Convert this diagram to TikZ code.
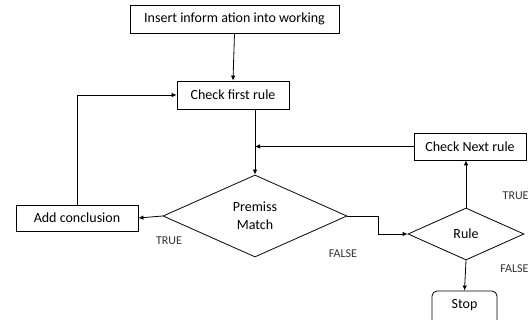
\documentclass[tikz,border=0pt]{standalone}
\usepackage{fontspec}
\setmainfont{Carlito}
\usetikzlibrary{shapes.geometric,arrows.meta}
\begin{document}
\begin{tikzpicture}[x=1pt,y=-1pt,
  line width=0.8pt,
  box/.style={draw, rectangle, inner sep=0pt, font=\fontsize{14}{16}\selectfont},
  dia/.style={draw, diamond, inner sep=0pt, align=center, font=\fontsize{14}{18}\selectfont},
  arr/.style={-{Latex[length=5pt,width=4.5pt]}},
  lbl/.style={font=\fontsize{12}{14}\selectfont, text=black!80}]
\useasboundingbox (0,0) rectangle (530,320);
\clip (0,0) rectangle (530,320);
\fill[white] (0,0) rectangle (530,320);

% process boxes
\node[box, minimum width=209pt, minimum height=28pt] (insert) at (234.5,19) {Insert inform ation into working};
\node[box, minimum width=112pt, minimum height=28pt] (first) at (233,95) {Check first rule};
\node[box, minimum width=112pt, minimum height=27pt] (next) at (470,146.5) {Check Next rule};
\node[box, minimum width=122pt, minimum height=26pt] (concl) at (77,218) {Add conclusion};
\node[box, rounded corners=5pt, minimum width=65pt, minimum height=36pt] (stop) at (464.5,309) {};
\node[font=\fontsize{14}{16}\selectfont] (stoptxt) at (464.5,305) {Stop};

% decisions
\node[dia, minimum width=184pt, minimum height=82pt] (premiss) at (255,216) {Premiss\\Match};
\node[dia, minimum width=116pt, minimum height=52pt] (rule) at (466,234) {Rule};

% connectors
\draw[arr] (insert.south) -- (first.north);
\draw[arr] (first.south -| premiss.north) -- (premiss.north);
\draw[arr] (next.west) -- (next.west -| premiss.north);
\draw[arr] (premiss.west) -- (concl.east);
\draw[arr] (concl.north) |- (first.west);
\draw[arr] (premiss.east) -- ++(31,0) |- (rule.west);
\draw[arr] (rule.north) -- (rule.north |- next.south);
\draw[arr] (rule.south) -- (stop.north);

% branch labels
\node[lbl] (t1) at (169,241) {TRUE};
\node[lbl] (f1) at (343,254) {FALSE};
\node[lbl, anchor=east, inner sep=1pt] (t2) at (530,196) {TRUE};
\node[lbl, anchor=east, inner sep=1pt] (f2) at (530,269) {FALSE};
\end{tikzpicture}
\end{document}
